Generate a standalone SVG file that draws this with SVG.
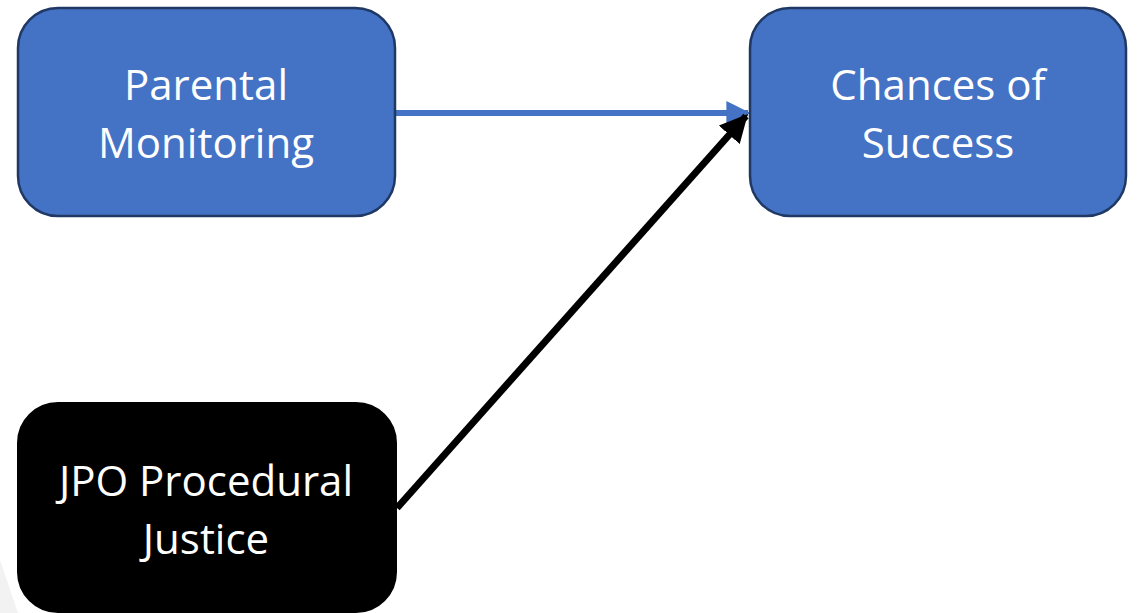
<svg xmlns="http://www.w3.org/2000/svg" width="1140" height="613" viewBox="0 0 1140 613">
<style>
.node{fill:#4472c4;stroke:#1f3864;stroke-width:2.5}
.dark{fill:#000;stroke:#000;stroke-width:2}
.lbl{font-family:"Open Sans","Liberation Sans",sans-serif;font-size:42px;fill:#fff;text-anchor:middle}
</style>
<defs>
<marker id="ab" markerWidth="4" markerHeight="4" refX="3.6" refY="2" orient="auto" markerUnits="strokeWidth"><path d="M0,0 L4,2 L0,4 Z" fill="#4472c4"/></marker>
<marker id="ak" markerWidth="4" markerHeight="4" refX="3.6" refY="2" orient="auto" markerUnits="strokeWidth"><path d="M0,0 L4,2 L0,4 Z" fill="#000"/></marker>
</defs>
<rect width="1140" height="613" fill="#fff"/>
<polygon points="0,560 18,613 0,613" fill="#f2f2f2"/>
<g id="connectors">
<line x1="396" y1="113" x2="748" y2="113" stroke="#4472c4" stroke-width="6" marker-end="url(#ab)"/>
<line x1="397" y1="508" x2="746" y2="116" stroke="#000" stroke-width="7" marker-end="url(#ak)"/>
</g>
<g id="parental">
<rect class="node" x="18" y="8" width="377" height="208" rx="40"/>
<text class="lbl" x="206" y="100">Parental</text>
<text class="lbl" x="206" y="158">Monitoring</text>
</g>
<g id="chances">
<rect class="node" x="750" y="8" width="376" height="208" rx="40"/>
<text class="lbl" x="938" y="100">Chances of</text>
<text class="lbl" x="938" y="158">Success</text>
</g>
<g id="jpo">
<rect class="dark" x="18" y="403" width="378" height="209" rx="40"/>
<text class="lbl" x="206" y="496">JPO Procedural</text>
<text class="lbl" x="206" y="554">Justice</text>
</g>
</svg>
